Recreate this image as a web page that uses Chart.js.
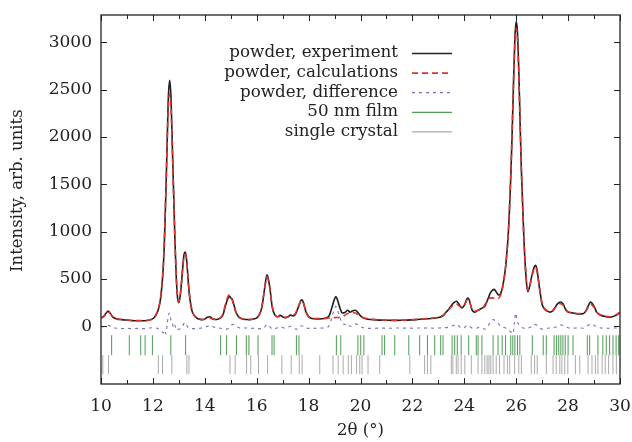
<!DOCTYPE html>
<html lang="en">
<head>
<meta charset="utf-8">
<title>Powder diffraction</title>
<script src="https://cdn.jsdelivr.net/npm/chart.js"></script>
<style>
  html, body { margin: 0; padding: 0; background: #fff; }
  #wrap { width: 632px; height: 442px; }
</style>
</head>
<body>
<div id="wrap"><canvas id="chart" width="632" height="442"></canvas></div>
<script>
// [2theta, intensity]
var experiment = [
  [10.0,92],[10.1,105],[10.2,140],[10.27,160],[10.35,140],[10.45,100],[10.6,78],[10.8,70],[11.0,65],[11.2,60],[11.4,58],[11.6,58],[11.8,62],[11.9,68],
  [12.0,80],[12.1,110],[12.2,170],[12.3,300],[12.4,620],[12.45,950],[12.5,1400],[12.55,1950],[12.6,2450],[12.65,2600],[12.7,2400],[12.75,1900],[12.8,1400],[12.85,900],[12.9,520],[12.95,300],
  [13.0,250],[13.05,320],[13.1,450],[13.15,620],[13.2,760],[13.25,785],[13.3,700],[13.35,520],[13.4,350],[13.5,170],[13.6,110],[13.7,85],[13.8,75],[13.9,70],
  [14.0,78],[14.1,95],[14.2,100],[14.3,80],[14.4,72],[14.5,75],[14.6,85],[14.7,120],[14.8,220],[14.9,300],[14.95,320],
  [15.0,300],[15.05,290],[15.1,250],[15.2,150],[15.3,100],[15.4,82],[15.5,75],[15.6,72],[15.7,70],[15.8,72],[15.9,78],
  [16.0,90],[16.1,120],[16.2,200],[16.3,390],[16.4,545],[16.5,420],[16.6,200],[16.7,120],[16.8,100],[16.9,115],
  [17.0,100],[17.1,92],[17.2,100],[17.3,118],[17.4,110],[17.5,130],[17.6,200],[17.7,270],[17.75,280],[17.8,250],[17.9,150],
  [18.0,100],[18.1,85],[18.2,80],[18.4,78],[18.6,82],[18.7,90],[18.8,115],[18.9,200],
  [19.0,290],[19.05,315],[19.1,290],[19.2,200],[19.3,140],[19.4,145],[19.5,170],[19.6,150],[19.7,165],[19.8,170],[19.9,145],
  [20.0,110],[20.1,90],[20.2,80],[20.3,75],[20.4,72],[20.6,68],[20.8,65],[21.0,64],[21.2,62],[21.4,62],[21.6,63],[21.8,65],
  [22.0,68],[22.2,72],[22.4,76],[22.6,80],[22.8,85],[23.0,92],[23.1,100],[23.2,115],[23.3,150],[23.4,180],[23.5,220],[23.6,250],[23.7,265],[23.8,230],[23.9,195],
  [24.0,220],[24.1,290],[24.15,298],[24.2,270],[24.3,170],[24.4,150],[24.5,165],[24.6,180],[24.7,195],[24.8,215],[24.9,280],
  [25.0,350],[25.1,385],[25.15,390],[25.2,375],[25.3,335],[25.35,330],[25.4,345],[25.5,450],[25.6,650],[25.7,1000],[25.8,1650],[25.85,2100],[25.9,2600],[25.95,3050],
  [26.0,3220],[26.05,3100],[26.1,2700],[26.15,2150],[26.2,1650],[26.3,900],[26.4,450],[26.45,365],[26.5,400],[26.6,530],[26.7,630],[26.75,645],[26.8,600],[26.9,400],
  [27.0,230],[27.1,180],[27.2,160],[27.3,150],[27.4,160],[27.5,200],[27.6,240],[27.7,257],[27.8,240],[27.9,180],
  [28.0,150],[28.2,140],[28.4,130],[28.6,135],[28.7,170],[28.8,230],[28.87,255],
  [29.0,210],[29.1,150],[29.2,125],[29.4,105],[29.6,95],[29.7,100],[29.8,110],[29.9,125],[30.0,145]
];

var calculation = [
  [10.0,85],[10.1,100],[10.2,135],[10.27,150],[10.35,135],[10.45,100],[10.6,80],[10.8,72],[11.0,66],[11.2,62],[11.4,60],[11.6,60],[11.8,64],[11.9,70],
  [12.0,82],[12.1,115],[12.2,180],[12.3,320],[12.4,650],[12.45,1000],[12.5,1450],[12.55,1950],[12.6,2350],[12.65,2460],[12.7,2300],[12.75,1850],[12.8,1380],[12.85,900],[12.9,540],[12.95,320],
  [13.0,260],[13.05,330],[13.1,460],[13.15,620],[13.2,740],[13.25,760],[13.3,690],[13.35,520],[13.4,360],[13.5,180],[13.6,115],[13.7,88],[13.8,76],[13.9,72],
  [14.0,74],[14.1,82],[14.2,85],[14.3,78],[14.4,74],[14.5,78],[14.6,90],[14.7,130],[14.8,240],[14.9,320],[14.95,330],
  [15.0,305],[15.05,280],[15.1,235],[15.2,145],[15.3,100],[15.4,84],[15.5,76],[15.6,73],[15.7,72],[15.8,74],[15.9,80],
  [16.0,92],[16.1,125],[16.2,210],[16.3,390],[16.4,520],[16.5,410],[16.6,210],[16.7,125],[16.8,100],[16.9,105],
  [17.0,98],[17.1,92],[17.2,98],[17.3,110],[17.4,115],[17.5,140],[17.6,210],[17.7,265],[17.75,270],[17.8,245],[17.9,155],
  [18.0,105],[18.2,85],[18.4,82],[18.6,84],[18.8,88],[19.0,92],[19.2,96],[19.4,115],[19.5,135],[19.6,140],[19.7,145],[19.8,140],[19.9,125],
  [20.0,105],[20.2,85],[20.4,76],[20.6,70],[20.8,67],[21.0,65],[21.2,64],[21.4,64],[21.6,65],[21.8,67],
  [22.0,70],[22.2,73],[22.4,77],[22.6,82],[22.8,88],[23.0,96],[23.1,105],[23.2,120],[23.3,150],[23.4,175],[23.5,205],[23.6,225],[23.7,235],[23.8,215],[23.9,200],
  [24.0,225],[24.1,275],[24.15,280],[24.2,260],[24.3,180],[24.4,160],[24.5,165],[24.6,175],[24.7,190],[24.8,230],[24.9,275],
  [25.0,300],[25.1,300],[25.2,290],[25.3,290],[25.4,330],[25.5,440],[25.6,650],[25.7,1020],[25.8,1680],[25.85,2150],[25.9,2620],[25.95,3000],
  [26.0,3150],[26.05,3020],[26.1,2650],[26.15,2150],[26.2,1650],[26.3,900],[26.4,460],[26.45,380],[26.5,400],[26.6,520],[26.7,610],[26.75,620],[26.8,580],[26.9,400],
  [27.0,240],[27.1,185],[27.2,165],[27.3,155],[27.4,165],[27.5,195],[27.6,230],[27.7,240],[27.8,225],[27.9,180],
  [28.0,155],[28.2,145],[28.4,135],[28.6,140],[28.7,165],[28.8,215],[28.87,230],
  [29.0,200],[29.1,150],[29.2,128],[29.4,108],[29.6,100],[29.7,104],[29.8,115],[29.9,130],[30.0,150]
];

var difference = [
  [10.0,-5],[10.2,0],[10.3,10],[10.4,-10],[10.6,-20],[10.8,-25],[11.0,-22],[11.2,-25],[11.4,-22],[11.6,-25],[11.8,-20],
  [12.0,-15],[12.2,-25],[12.3,-40],[12.4,-70],[12.45,-40],[12.5,-80],[12.55,20],[12.6,120],[12.65,140],[12.7,60],[12.75,40],[12.8,-20],[12.85,10],[12.9,-40],
  [13.0,-30],[13.1,-20],[13.2,30],[13.25,40],[13.3,10],[13.4,-20],[13.6,-25],[13.8,-20],
  [14.0,-10],[14.1,0],[14.2,10],[14.4,-15],[14.6,-20],[14.8,-30],[14.9,-25],
  [15.0,10],[15.1,20],[15.2,0],[15.4,-20],[15.6,-18],[15.8,-22],
  [16.0,-20],[16.2,-30],[16.3,-10],[16.4,20],[16.5,0],[16.6,-30],[16.8,-15],[16.9,-5],
  [17.1,-20],[17.3,0],[17.5,-30],[17.6,-25],[17.7,5],[17.8,0],[17.9,-20],
  [18.2,-22],[18.4,-20],[18.6,-18],[18.8,10],[18.9,100],
  [19.0,190],[19.05,210],[19.1,180],[19.2,100],[19.3,30],[19.4,20],[19.5,30],[19.6,0],[19.7,10],[19.8,25],[19.9,15],
  [20.0,-5],[20.2,-20],[20.4,-22],[20.6,-20],[20.8,-18],[21.0,-20],[21.2,-20],[21.4,-18],[21.6,-20],[21.8,-18],
  [22.0,-20],[22.2,-18],[22.4,-20],[22.6,-16],[22.8,-20],[23.0,-18],[23.2,-15],[23.4,-10],[23.6,10],[23.7,20],[23.8,0],[23.9,-20],
  [24.0,-15],[24.1,10],[24.2,0],[24.3,-20],[24.4,-25],[24.6,-10],[24.8,-30],[24.9,0],
  [25.0,40],[25.1,70],[25.2,60],[25.3,30],[25.4,0],[25.5,-10],[25.6,-20],[25.7,-40],[25.8,-60],[25.88,-80],[25.93,30],[25.98,140],
  [26.03,60],[26.1,20],[26.2,-10],[26.3,-20],[26.4,-25],[26.5,-15],[26.6,0],[26.7,20],[26.8,10],[26.9,-15],
  [27.0,-30],[27.2,-20],[27.4,-15],[27.6,0],[27.7,15],[27.8,10],
  [28.0,-15],[28.2,-20],[28.4,-15],[28.6,-20],[28.8,15],[28.9,25],
  [29.0,10],[29.2,-15],[29.4,-20],[29.6,-20],[29.8,-18],[30.0,-15]
];

// reflection positions (2theta)
var filmPeaks = [10.41,11.09,11.53,11.70,11.98,12.69,13.26,14.61,14.84,15.22,15.60,15.70,16.05,16.59,16.67,17.53,17.63,
  19.07,19.24,19.90,20.01,20.13,20.83,20.93,21.32,21.86,22.28,22.58,22.86,23.09,23.18,23.53,23.63,23.73,23.88,24.17,
  24.46,24.53,24.68,25.11,25.30,25.46,25.59,25.79,25.87,25.95,26.05,26.14,26.62,27.04,27.16,27.46,27.55,27.64,27.72,
  27.80,27.89,28.00,28.19,28.74,28.83,29.15,29.34,29.47,29.60,29.73,29.85,29.95];
var crystalPeaks = [10.07,10.29,12.21,12.37,12.73,13.31,13.39,14.97,15.17,15.61,15.77,16.07,16.42,16.97,17.33,17.64,17.75,
  18.43,18.94,19.14,19.33,19.53,19.65,19.85,19.97,20.06,20.29,20.74,21.90,22.47,22.58,22.71,23.50,23.56,23.69,23.76,
  23.88,24.02,24.27,24.53,24.68,24.79,24.88,24.95,25.02,25.11,25.23,25.36,25.53,25.66,25.75,25.94,26.10,26.20,26.58,
  26.71,26.81,27.16,27.42,27.54,27.68,27.76,27.87,27.99,28.28,28.45,28.77,28.92,29.05,29.15,29.31,29.43,29.56,29.73,29.86];
var filmLevel = -200;
var crystalLevel = -406;

var yTicks = [0, 500, 1000, 1500, 2000, 2500, 3000];
var xTicks = [10, 12, 14, 16, 18, 20, 22, 24, 26, 28, 30];

var legendNames = ['powder, experiment', 'powder, calculations', 'powder, difference', '50 nm film', 'single crystal'];

function pts(a) { return a.map(function (p) { return { x: p[0], y: p[1] }; }); }
function marks(a, lev) { return a.map(function (v) { return { x: v, y: lev }; }); }

var serif = 'DejaVu Serif';

var frame = {
  id: 'frame',
  afterDraw: function (chart) {
    var c = chart.ctx, a = chart.chartArea;
    var xs = chart.scales.x, ys = chart.scales.y;
    c.save();
    c.strokeStyle = '#222';
    c.lineWidth = 1.3;
    c.strokeRect(a.left, a.top, a.right - a.left, a.bottom - a.top);
    c.lineWidth = 1;
    c.beginPath();
    for (var v = 10; v <= 30; v++) {
      var px = Math.round(xs.getPixelForValue(v)) + 0.5;
      var len = (v % 2 === 0) ? 6 : 4;
      c.moveTo(px, a.bottom); c.lineTo(px, a.bottom - len);
      c.moveTo(px, a.top); c.lineTo(px, a.top + len);
    }
    yTicks.forEach(function (t) {
      var py = Math.round(ys.getPixelForValue(t)) + 0.5;
      c.moveTo(a.left, py); c.lineTo(a.left + 6, py);
      c.moveTo(a.right, py); c.lineTo(a.right - 6, py);
    });
    c.stroke();

    // titles
    c.fillStyle = '#222';
    c.font = '16.5px "' + serif + '"';
    c.textAlign = 'center';
    c.textBaseline = 'middle';
    c.fillText('2\u03B8 (\u00B0)', (a.left + a.right) / 2, 431);
    c.save();
    c.translate(18, (a.top + ys.getPixelForValue(0)) / 2 + 20);
    c.rotate(-Math.PI / 2);
    c.fillText('Intensity, arb. units', 0, 0);
    c.restore();

    // legend
    var styles = [
      { color: '#222', dash: [], w: 1.6 },
      { color: '#e2322c', dash: [6, 4], w: 1.6 },
      { color: '#7272c4', dash: [3, 4], w: 1.2 },
      { color: '#4f9a55', dash: [], w: 1.2 },
      { color: '#aaaaaa', dash: [], w: 1.2 }
    ];
    c.font = '16.7px "' + serif + '"';
    c.textAlign = 'right';
    for (var i = 0; i < legendNames.length; i++) {
      var y = 53 + i * 19.6;
      c.fillStyle = '#222';
      c.fillText(legendNames[i], 398, y);
      c.beginPath();
      c.setLineDash(styles[i].dash);
      c.strokeStyle = styles[i].color;
      c.lineWidth = styles[i].w;
      c.moveTo(412, y + 0.5); c.lineTo(452, y + 0.5);
      c.stroke();
    }
    c.setLineDash([]);
    c.restore();
  }
};

new Chart(document.getElementById('chart'), {
  type: 'scatter',
  data: {
    datasets: [
      { label: legendNames[1], data: pts(calculation), showLine: true, borderColor: '#e2322c', borderWidth: 1.6,
        borderDash: [6, 4], pointRadius: 0, cubicInterpolationMode: 'monotone', order: 0 },
      { label: legendNames[0], data: pts(experiment), showLine: true, borderColor: '#1e1e1e', borderWidth: 1.6,
        pointRadius: 0, cubicInterpolationMode: 'monotone', order: 1 },
      { label: legendNames[2], data: pts(difference), showLine: true, borderColor: '#7272c4', borderWidth: 1.1,
        borderDash: [3, 4], pointRadius: 0, cubicInterpolationMode: 'monotone', order: 2 },
      { label: legendNames[3], data: marks(filmPeaks, filmLevel), showLine: false, pointStyle: 'line', rotation: 90,
        pointRadius: 10, borderColor: '#4f9a55', borderWidth: 1, order: 3 },
      { label: legendNames[4], data: marks(crystalPeaks, crystalLevel), showLine: false, pointStyle: 'line', rotation: 90,
        pointRadius: 9.5, borderColor: '#aaaaaa', borderWidth: 1, order: 4 }
    ]
  },
  options: {
    responsive: false,
    animation: false,
    layout: { padding: { top: 15, right: 12, left: 0, bottom: 0 } },
    plugins: { legend: { display: false }, tooltip: { enabled: false } },
    elements: { point: { hoverRadius: 0 } },
    scales: {
      x: {
        type: 'linear', min: 10, max: 30,
        afterBuildTicks: function (s) { s.ticks = xTicks.map(function (v) { return { value: v }; }); },
        afterFit: function (s) { s.height = 58; s.paddingLeft = 0; s.paddingRight = 0; },
        grid: { display: false, drawTicks: false },
        border: { display: false },
        ticks: { padding: 12, color: '#222', font: { family: serif, size: 17 },
          callback: function (v) { return String(v); } }
      },
      y: {
        type: 'linear', min: -610, max: 3290,
        afterBuildTicks: function (s) { s.ticks = yTicks.map(function (v) { return { value: v }; }); },
        afterFit: function (s) { s.width = 101; s.paddingTop = 0; s.paddingBottom = 0; },
        grid: { display: false, drawTicks: false },
        border: { display: false },
        ticks: { padding: 9, color: '#222', font: { family: serif, size: 17 },
          callback: function (v) { return String(v); } }
      }
    }
  },
  plugins: [frame]
});
</script>
</body>
</html>
